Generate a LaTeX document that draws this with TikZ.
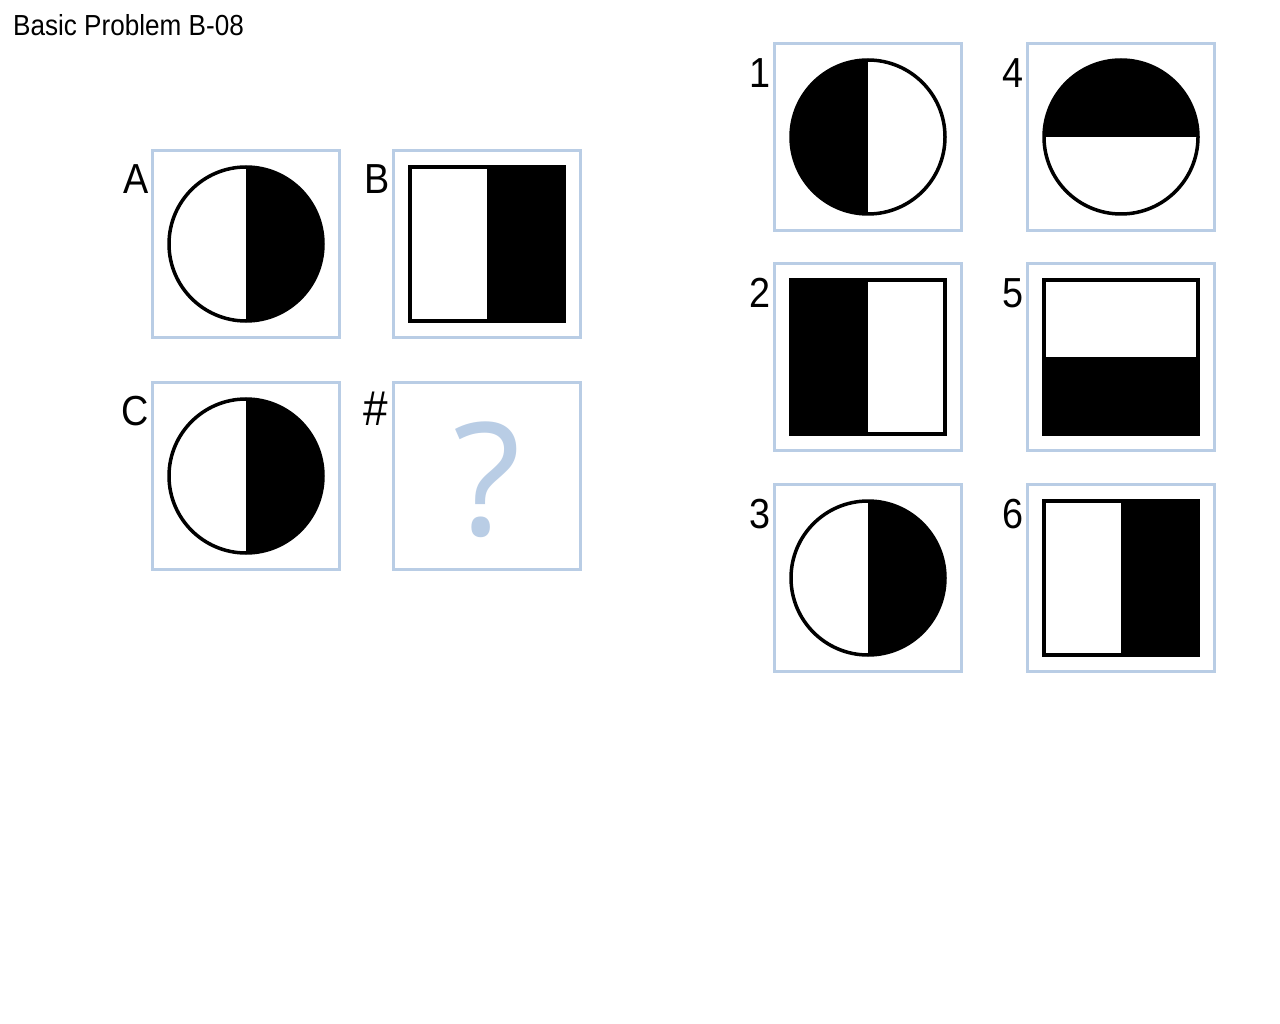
\documentclass[tikz,border=0pt]{standalone}
\usepackage{fontspec}
\usetikzlibrary{calc}
\newfontfamily\narrowfont[FakeStretch=0.9]{Liberation Sans}
\newfontfamily\qfont{Open Sans}
\definecolor{boxblue}{RGB}{185,205,229}
\newcommand\hcirc[2]{%
  \begin{scope}[shift={(#1.center)}]
    \fill[white] (0,0) circle[radius=77pt];
    \begin{scope}\clip (0,0) circle[radius=77pt]; \fill[black] #2; \end{scope}
    \draw[line width=3.5pt] (0,0) circle[radius=77pt];
  \end{scope}}
\newcommand\hsq[2]{%
  \begin{scope}[shift={(#1.center)}]
    \fill[white] (-77,-77) rectangle (77,77);
    \fill[black] #2;
    \draw[line width=4pt] (-77,-77) rectangle (77,77);
  \end{scope}}
\begin{document}
\begin{tikzpicture}[x=1pt,y=-1pt,
  cell/.style={draw=boxblue,line width=3pt,minimum size=187pt,inner sep=0pt,outer sep=0pt,shape=rectangle},
  lbl/.style={font=\narrowfont\fontsize{42}{42}\selectfont,inner sep=0pt,anchor=base east},
  ttl/.style={font=\narrowfont\fontsize{29}{29}\selectfont,inner sep=0pt,anchor=base west}]
\useasboundingbox (0,0) rectangle (1280,1024);
\fill[white] (0,0) rectangle (1280,1024);
\node[ttl] (title) at (13,36) {Basic Problem B-08};
% matrix cells
\node[cell] (A) at (246,244) {};
\node[cell] (B) at (487,244) {};
\node[cell] (C) at (246,476) {};
\node[cell] (Q) at (487,476) {};
% answer cells
\node[cell] (a1) at (868,137) {};
\node[cell] (a4) at (1121,137) {};
\node[cell] (a2) at (868,357) {};
\node[cell] (a5) at (1121,357) {};
\node[cell] (a3) at (868,578) {};
\node[cell] (a6) at (1121,578) {};
% labels
\node[lbl] (lA) at ($(A.north west)+(-4,43)$) {A};
\node[lbl] (lB) at ($(B.north west)+(-4,43)$) {B};
\node[lbl] (lC) at ($(C.north west)+(-4,43)$) {C};
\node[lbl,font=\narrowfont\fontsize{49}{49}\selectfont] (lQ) at ($(Q.north west)+(-5,43)$) {\#};
\node[lbl] (l1) at ($(a1.north west)+(-4,44)$) {1};
\node[lbl] (l4) at ($(a4.north west)+(-4,44)$) {4};
\node[lbl] (l2) at ($(a2.north west)+(-4,44)$) {2};
\node[lbl] (l5) at ($(a5.north west)+(-4,44)$) {5};
\node[lbl] (l3) at ($(a3.north west)+(-4,44)$) {3};
\node[lbl] (l6) at ($(a6.north west)+(-4,44)$) {6};
% figures
\hcirc{A}{(0,-80) rectangle (80,80)}
\hsq{B}{(0,-77) rectangle (77,77)}
\hcirc{C}{(0,-80) rectangle (80,80)}
\node[font=\qfont\fontsize{157}{157}\selectfont,text=boxblue,inner sep=0pt,anchor=base] (qm) at ($(Q.center)+(0,59)$) {?};
\hcirc{a1}{(-80,-80) rectangle (0,80)}
\hcirc{a4}{(-80,-80) rectangle (80,0)}
\hsq{a2}{(-77,-77) rectangle (0,77)}
\hsq{a5}{(-77,0) rectangle (77,77)}
\hcirc{a3}{(0,-80) rectangle (80,80)}
\hsq{a6}{(0,-77) rectangle (77,77)}
\end{tikzpicture}
\end{document}
